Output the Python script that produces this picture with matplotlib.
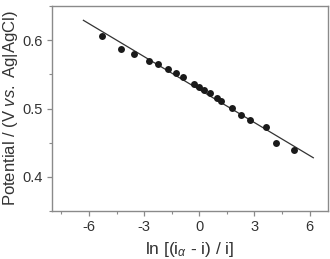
import matplotlib
matplotlib.use("Agg")
import matplotlib.pyplot as plt
from matplotlib.ticker import MultipleLocator

plt.rcParams['font.family'] = ['Liberation Sans', 'DejaVu Sans']
plt.rcParams['mathtext.fontset'] = 'custom'
plt.rcParams['mathtext.rm'] = 'Liberation Sans'
plt.rcParams['mathtext.it'] = 'Liberation Sans:italic'

x_vals = [-5.31, -4.24, -3.55, -2.76, -2.24, -1.69, -1.25, -0.91, -0.27, 0.0,
          0.27, 0.58, 0.98, 1.20, 1.76, 2.29, 2.76, 3.65, 4.18, 5.13]
y_vals = [0.606, 0.587, 0.580, 0.570, 0.565, 0.558, 0.552, 0.546, 0.536, 0.531,
          0.527, 0.522, 0.515, 0.511, 0.501, 0.491, 0.483, 0.473, 0.449, 0.440]
fit_x = [-6.3, 6.2]
fit_y = [0.629, 0.428]
x_ticks = [-6, -3, 0, 3, 6]
y_ticks = [0.4, 0.5, 0.6]

fig = plt.figure(figsize=(3.3, 2.59), dpi=100)
ax = fig.add_axes([0.158, 0.185, 0.836, 0.792])

ax.plot(fit_x, fit_y, color='#333333', lw=0.9)
ax.plot(x_vals, y_vals, 'o', color='#1a1a1a', markersize=5, markeredgewidth=0)

ax.set_xlim(-8, 7)
ax.set_ylim(0.35, 0.65)
ax.set_xticks(x_ticks)
ax.set_xticklabels([str(t) for t in x_ticks])
ax.set_yticks(y_ticks)
ax.set_yticklabels([f"{t:.1f}" for t in y_ticks])
ax.xaxis.set_minor_locator(MultipleLocator(1.5))
ax.yaxis.set_minor_locator(MultipleLocator(0.05))

spine_c = '#8a8a8a'
for s in ax.spines.values():
    s.set_color(spine_c)
    s.set_linewidth(1.0)
ax.tick_params(which='both', direction='out', colors=spine_c, labelcolor='#333333', labelsize=10.5)
ax.tick_params(which='major', length=3.5, width=0.9, pad=3)
ax.tick_params(which='minor', length=2, width=0.8)

ax.set_ylabel(r'Potential / (V $\mathit{vs.}$ Ag|AgCl)', fontsize=12, color='#333333', labelpad=2)
ax.set_xlabel(r'ln [(i$_{\alpha}$ - i) / i]', fontsize=12.5, color='#333333', labelpad=4)

fig.savefig('out.png', dpi=100)
